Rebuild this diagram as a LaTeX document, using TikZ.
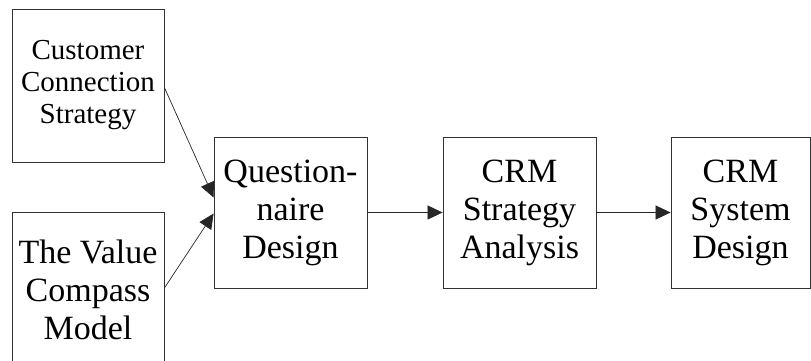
\documentclass[tikz,border=0pt]{standalone}
\usepackage{fontspec}
\setmainfont{Liberation Serif}
\usetikzlibrary{arrows.meta}
\begin{document}
\begin{tikzpicture}[x=1pt,y=-1pt,
  box/.style={draw=black!80,line width=0.8pt,inner sep=0pt,align=center},
  small/.style={font=\fontsize{29}{32}\selectfont},
  big/.style={font=\fontsize{34}{38}\selectfont},
  conn/.style={draw=black!85,line width=0.7pt,-{Triangle[length=15pt,width=14pt]}}]
\useasboundingbox (0,0) rectangle (811,361);
\node[box,small,minimum width=152pt,minimum height=153pt] (ccs) at (88,85.5) {Customer\\Connection\\Strategy};
\node[box,big,minimum width=152pt,minimum height=156pt] (vcm) at (88,290) {The Value\\Compass\\Model};
\node[box,big,minimum width=153pt,minimum height=151pt] (qd) at (290.5,212.5) {Question-\\naire\\Design};
\node[box,big,minimum width=153pt,minimum height=151pt] (csa) at (519.5,212.5) {CRM\\Strategy\\Analysis};
\node[box,big,minimum width=139pt,minimum height=151pt] (csd) at (740.5,212.5) {CRM\\System\\Design};
\draw[conn] ([yshift=-2pt]ccs.east) -- ([yshift=15pt]qd.west);
\draw[conn] ([yshift=2pt]vcm.east) -- ([yshift=-1pt]qd.west);
\draw[conn] (qd.east) -- (csa.west);
\draw[conn] (csa.east) -- (csd.west);
\end{tikzpicture}
\end{document}
